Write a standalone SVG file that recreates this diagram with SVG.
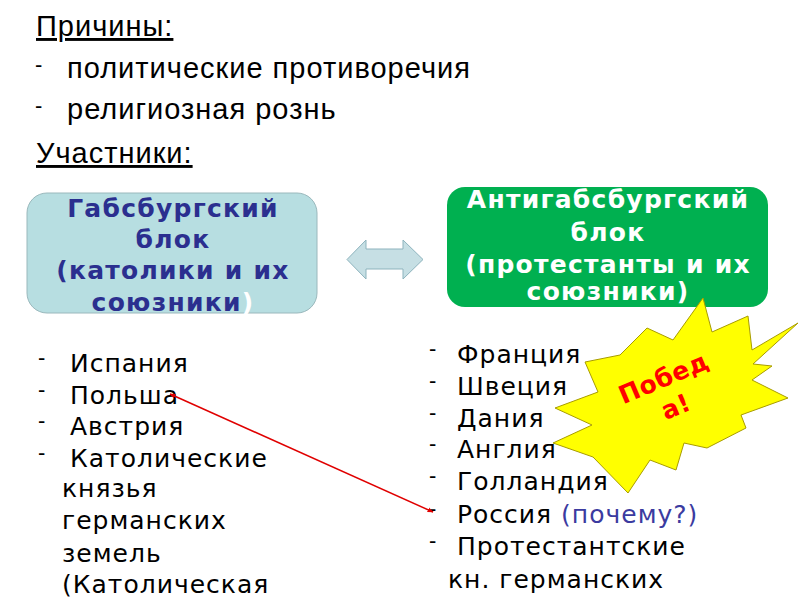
<svg xmlns="http://www.w3.org/2000/svg" width="800" height="600" viewBox="0 0 800 600">
<defs>
<style>
.hdr{font-family:"Liberation Sans",Arial,sans-serif;font-size:29px;letter-spacing:1px;fill:#000}
.lst{font-family:"DejaVu Sans",Verdana,sans-serif;font-size:25px;letter-spacing:1px;fill:#000}
.dash{font-family:"Liberation Sans",Arial,sans-serif;font-size:22px;fill:#000}
.bl{font-family:"DejaVu Sans",Verdana,sans-serif;font-size:25px;font-weight:bold;letter-spacing:1.25px;text-anchor:middle}
</style>
<marker id="ah" viewBox="0 0 10 10" refX="9" refY="5" markerWidth="6" markerHeight="6" orient="auto-start-reverse" markerUnits="userSpaceOnUse">
<path d="M0,1 L10,5 L0,9 z" fill="#e00000"/>
</marker>
</defs>
<rect width="800" height="600" fill="#fff"/>

<g id="header">
<text class="hdr" x="36" y="36" text-decoration="underline">Причины:</text>
<text class="dash" x="35" y="72">-</text>
<text class="hdr" x="67" y="78">политические противоречия</text>
<text class="dash" x="35" y="113">-</text>
<text class="hdr" x="67" y="119">религиозная рознь</text>
<text class="hdr" x="36" y="163" text-decoration="underline">Участники:</text>
</g>

<g id="habsburg">
<rect x="27" y="193" width="290" height="120" rx="20" fill="#b7dee1" stroke="#9ab8bc" stroke-width="1"/>
<text class="bl" fill="#2b2f8f"><tspan x="173" y="217">Габсбургский</tspan><tspan x="173" y="248">блок</tspan><tspan x="173" y="279">(католики и их</tspan><tspan x="173" y="311">союзники<tspan fill="#fff">)</tspan></tspan></text>
</g>

<g id="antihabsburg">
<rect x="447" y="187" width="321" height="120" rx="18" fill="#00b050"/>
<text class="bl" fill="#fff"><tspan x="608" y="208">Антигабсбургский</tspan><tspan x="608" y="241">блок</tspan><tspan x="608" y="273">(протестанты и их</tspan><tspan x="608" y="300">союзники)</tspan></text>
</g>

<g id="double-arrow">
<polygon points="347,259.5 366,240 366,249 403,249 403,240 423,259.5 403,279 403,269 366,269 366,279" fill="#c6dfe4" stroke="#8db3bd" stroke-width="1"/>
</g>

<g id="left-list">
<text class="dash" x="38" y="365">-</text><text class="lst" x="70" y="372">Испания</text>
<text class="dash" x="38" y="397">-</text><text class="lst" x="70" y="404">Польша</text>
<text class="dash" x="38" y="428">-</text><text class="lst" x="70" y="435">Австрия</text>
<text class="dash" x="38" y="460">-</text><text class="lst" x="70" y="467">Католические</text>
<text class="lst" x="62" y="497">князья</text>
<text class="lst" x="62" y="529">германских</text>
<text class="lst" x="62" y="562">земель</text>
<text class="lst" x="62" y="593">(Католическая</text>
</g>

<g id="victory">
<polygon points="703,298 712,332 748,316 752,350 798,323 753,364 772,366 752,380 788,398 741,415 746,428 707,448 684,443 676,470 650,460 628,493 593,457 553,443 592,425 555,408 598,392 585,362 620,355 647,328 673,340" fill="#ffff00" stroke="#a89c00" stroke-width="1"/>
<text class="bl" fill="#ff0000" font-size="25" style="letter-spacing:0.5px" transform="translate(667,386) rotate(-23)"><tspan x="0" y="0">Побед</tspan><tspan x="0" y="31">а!</tspan></text>
</g>

<g id="right-list">
<text class="dash" x="429" y="356">-</text><text class="lst" x="457" y="363">Франция</text>
<text class="dash" x="429" y="388">-</text><text class="lst" x="457" y="395">Швеция</text>
<text class="dash" x="429" y="420">-</text><text class="lst" x="457" y="427">Дания</text>
<text class="dash" x="429" y="451">-</text><text class="lst" x="457" y="458">Англия</text>
<text class="dash" x="429" y="483">-</text><text class="lst" x="457" y="490">Голландия</text>
<text class="dash" x="429" y="516">-</text><text class="lst" x="457" y="523">Россия <tspan fill="#3b3ba0">(почему?)</tspan></text>
<text class="dash" x="429" y="548">-</text><text class="lst" x="457" y="555">Протестантские</text>
<text class="lst" x="448" y="588">кн. германских</text>
</g>

<g id="connectors">
<line x1="170" y1="394" x2="433" y2="512" stroke="#e00000" stroke-width="1.5" marker-start="url(#ah)" marker-end="url(#ah)"/>
</g>
</svg>
